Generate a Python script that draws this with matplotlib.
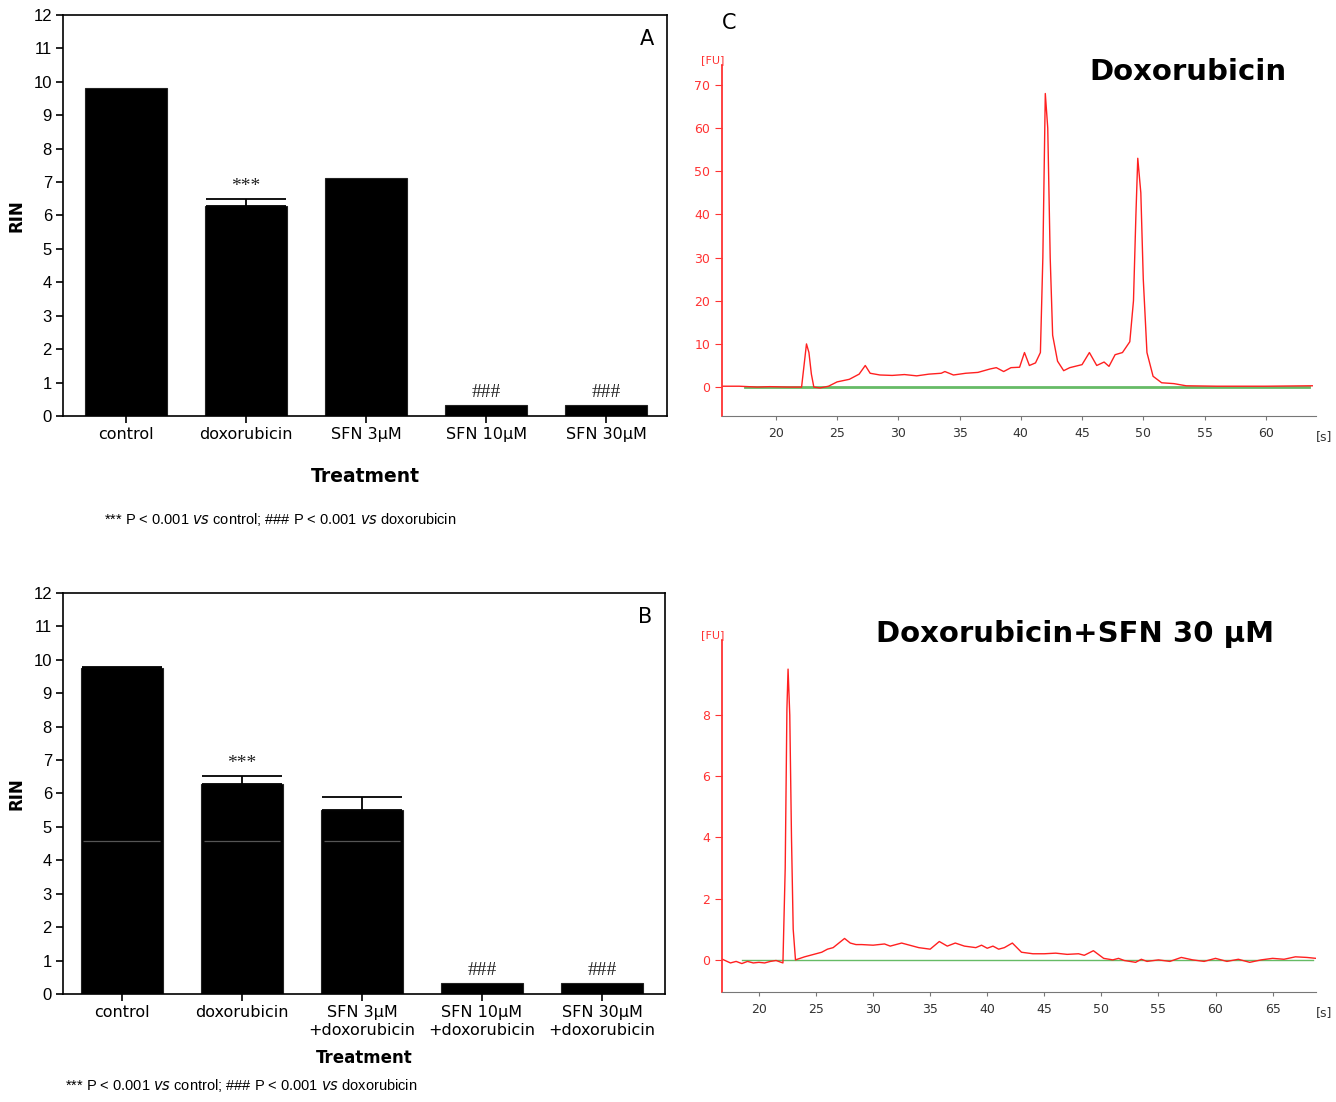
from matplotlib import pyplot as plt
import numpy as np

# RIN bar data (panels A and B)
groups_a = ['control', 'doxorubicin', 'SFN 3\u03bcM', 'SFN 10\u03bcM', 'SFN 30\u03bcM']
rin_a = [9.82, 6.27, 7.12, 0.33, 0.33]
err_a = [0.0, 0.22, 0.0, 0.0, 0.0]
marks_a = ['', '***', '', '###', '###']

groups_b = ['control', 'doxorubicin', 'SFN 3\u03bcM\n+doxorubicin',
            'SFN 10\u03bcM\n+doxorubicin', 'SFN 30\u03bcM\n+doxorubicin']
rin_b = [9.76, 6.29, 5.52, 0.33, 0.33]
err_b = [0.04, 0.23, 0.38, 0.0, 0.0]
marks_b = ['', '***', '', '###', '###']

# electropherogram traces: time [s] and fluorescence [FU]
t_dox = [15.6, 17.0, 18.5, 19.5, 21.0, 22.1, 22.3, 22.5, 22.7, 22.9, 23.1, 23.6, 24.3,
         25.0, 26.0, 26.8, 27.3, 27.7, 28.5, 29.5, 30.5, 31.5, 32.5, 33.5, 33.8, 34.5,
         35.5, 36.5, 37.5, 38.0, 38.6, 39.2, 39.9, 40.3, 40.7, 41.2, 41.6, 41.8, 42.0,
         42.2, 42.4, 42.6, 43.0, 43.5, 44.0, 45.0, 45.6, 46.2, 46.8, 47.2, 47.7, 48.3,
         48.9, 49.2, 49.4, 49.55, 49.8, 50.0, 50.3, 50.8, 51.5, 52.5, 53.5, 56.0, 60.0, 63.8]
fu_dox = [0.2, 0.2, 0.0, 0.1, 0.0, 0.0, 5.0, 10.0, 8.0, 3.0, 0.0, -0.2, 0.2,
          1.2, 1.8, 3.0, 5.0, 3.2, 2.8, 2.7, 2.9, 2.6, 3.0, 3.2, 3.6, 2.8,
          3.2, 3.4, 4.2, 4.5, 3.6, 4.5, 4.6, 8.0, 5.0, 5.6, 8.0, 30.0, 68.0,
          60.0, 30.0, 12.0, 6.0, 3.8, 4.5, 5.2, 8.0, 5.0, 5.8, 4.8, 7.5, 8.0,
          10.5, 20.0, 40.0, 53.0, 45.0, 25.0, 8.0, 2.5, 1.0, 0.8, 0.3, 0.2, 0.2, 0.3]

t_sfn = [16.8, 17.5, 18.0, 18.5, 19.0, 19.5, 20.0, 20.5, 21.0, 21.5, 22.1, 22.3, 22.45,
         22.55, 22.7, 22.85, 23.0, 23.2, 24.0, 25.0, 25.5, 26.0, 26.5, 27.0, 27.5, 28.0,
         28.5, 29.0, 30.0, 31.0, 31.5, 32.5, 33.0, 34.0, 35.0, 35.8, 36.5, 37.2, 38.0,
         39.0, 39.5, 40.0, 40.5, 41.0, 41.5, 42.2, 43.0, 44.0, 45.0, 46.0, 47.0, 48.0,
         48.5, 49.3, 50.2, 51.0, 51.5, 52.0, 53.0, 53.5, 54.0, 55.0, 56.0, 57.0, 58.0,
         59.0, 60.0, 61.0, 62.0, 63.0, 64.0, 65.0, 66.0, 67.0, 68.0, 68.8]
fu_sfn = [0.02, -0.1, -0.05, -0.12, -0.05, -0.1, -0.08, -0.1, -0.05, -0.02, -0.1, 3.0, 8.2,
          9.5, 8.0, 4.0, 1.0, 0.0, 0.1, 0.2, 0.25, 0.35, 0.4, 0.55, 0.7, 0.55,
          0.5, 0.5, 0.48, 0.52, 0.45, 0.55, 0.5, 0.4, 0.35, 0.6, 0.45, 0.55, 0.45,
          0.4, 0.48, 0.38, 0.45, 0.35, 0.4, 0.55, 0.25, 0.2, 0.2, 0.22, 0.18, 0.2,
          0.15, 0.3, 0.05, 0.0, 0.05, -0.02, -0.08, 0.02, -0.05, 0.0, -0.05, 0.08, 0.0,
          -0.05, 0.05, -0.05, 0.02, -0.08, 0.0, 0.05, 0.02, 0.1, 0.08, 0.05]

fig = plt.figure(figsize=(13.36, 11.02), dpi=100)
tick_font = ['Liberation Sans Narrow', 'Liberation Sans', 'DejaVu Sans']


def bar_panel(ax, groups, vals, errs, marks, letter, xlim):
    x = np.arange(len(groups))
    ax.bar(x, vals, width=0.68, color='black', edgecolor='#222222', linewidth=0.8)
    # error bars only where there is an error (upper side only)
    for xi, v, e in zip(x, vals, errs):
        if e > 0:
            ax.errorbar(xi, v, yerr=[[0], [e]], fmt='none', ecolor='black',
                        elinewidth=1.3, capsize=29, capthick=1.3)
    for xi, v, e, m in zip(x, vals, errs, marks):
        if m:
            ax.text(xi, v + e + 0.12, m, ha='center', va='bottom', fontsize=14,
                    family=['Liberation Serif', 'DejaVu Serif'], color='#222222')
    ax.set_xlim(xlim)
    ax.set_ylim(0, 12)
    ax.set_yticks(range(0, 13))
    ax.set_xticks(x)
    ax.set_xticklabels(groups, fontsize=11.5, linespacing=1.25)
    for lab in ax.get_yticklabels():
        lab.set_family(tick_font)
        lab.set_fontsize(12)
    ax.tick_params(direction='out', length=5, width=1.2, pad=3)
    for s in ax.spines.values():
        s.set_linewidth(1.2)
    ax.set_ylabel('RIN', fontsize=12, fontweight='bold')
    ax.yaxis.set_label_coords(-0.062, 0.5)
    ax.text(0.978, 0.965, letter, transform=ax.transAxes, ha='right', va='top', fontsize=15)


ax_a = fig.add_axes([0.0472, 0.6225, 0.4521, 0.3639])
bar_panel(ax_a, groups_a, rin_a, err_a, marks_a, 'A', (-0.525, 4.508))
ax_a.set_xlabel('Treatment', fontsize=13.5, fontweight='bold', labelpad=18)
fig.text(0.078, 0.5285, r'*** P < 0.001 $\it{vs}$ control; ### P < 0.001 $\it{vs}$ doxorubicin',
         fontsize=10.5, family=tick_font, va='center')

ax_b = fig.add_axes([0.0472, 0.0980, 0.4506, 0.3639])
bar_panel(ax_b, groups_b, rin_b, err_b, marks_b, 'B', (-0.49, 4.525))
# faint grey line seen inside the first three bars
for xi in range(3):
    ax_b.hlines(4.58, xi - 0.32, xi + 0.32, colors='#555555', linewidth=0.9)
ax_b.set_xlabel('Treatment', fontsize=12, fontweight='bold', labelpad=8)
fig.text(0.049, 0.0075, r'*** P < 0.001 $\it{vs}$ control; ### P < 0.001 $\it{vs}$ doxorubicin',
         fontsize=10.5, family=tick_font, va='bottom')


def trace_panel(ax, t, fu, xlim, ylim, yticks, xticks, green_from, green_to, glw):
    ax.plot(t, fu, color='#ff2020', linewidth=1.0)
    ax.plot([green_from, green_to], [0, 0], color='#66bb66', linewidth=glw, zorder=1)
    ax.set_xlim(xlim)
    ax.set_ylim(ylim)
    ax.set_xticks(xticks)
    ax.set_yticks(yticks)
    ax.spines['top'].set_visible(False)
    ax.spines['right'].set_visible(False)
    ax.spines['left'].set_color('#ff3333')
    ax.spines['bottom'].set_color('#777777')
    ax.spines['left'].set_linewidth(1.3)
    ax.tick_params(axis='y', colors='#ff3333', labelsize=9, length=5, direction='out')
    ax.tick_params(axis='x', colors='#777777', labelcolor='#333333', labelsize=9,
                   length=3, direction='out', pad=5)
    ax.text(-0.035, 1.0, '[FU]', transform=ax.transAxes, color='#ff3333',
            fontsize=8, ha='left', va='bottom')
    ax.text(1.0, -0.04, '[s]', transform=ax.transAxes, color='#333333',
            fontsize=9, ha='left', va='top')


ax_c = fig.add_axes([0.5404, 0.6225, 0.4446, 0.3185])
trace_panel(ax_c, t_dox, fu_dox, (15.6, 64.1), (-6.7, 74.6), range(0, 71, 10),
            range(20, 61, 5), 17.5, 63.5, 2.0)
ax_c.text(0.951, 1.02, 'Doxorubicin', transform=ax_c.transAxes, ha='right', va='top',
          fontsize=21, fontweight='bold')
fig.text(0.5405, 0.979, 'C', fontsize=15, va='center', ha='left')

ax_d = fig.add_axes([0.5404, 0.0998, 0.4446, 0.3194])
trace_panel(ax_d, t_sfn, fu_sfn, (16.76, 68.8), (-1.05, 10.45), range(0, 9, 2),
            range(20, 66, 5), 18.5, 68.5, 1.0)
fig.text(0.6557, 0.425, 'Doxorubicin+SFN 30 \u03bcM', fontsize=21, fontweight='bold',
         ha='left', va='center')

fig.savefig('out.png', dpi=100)
